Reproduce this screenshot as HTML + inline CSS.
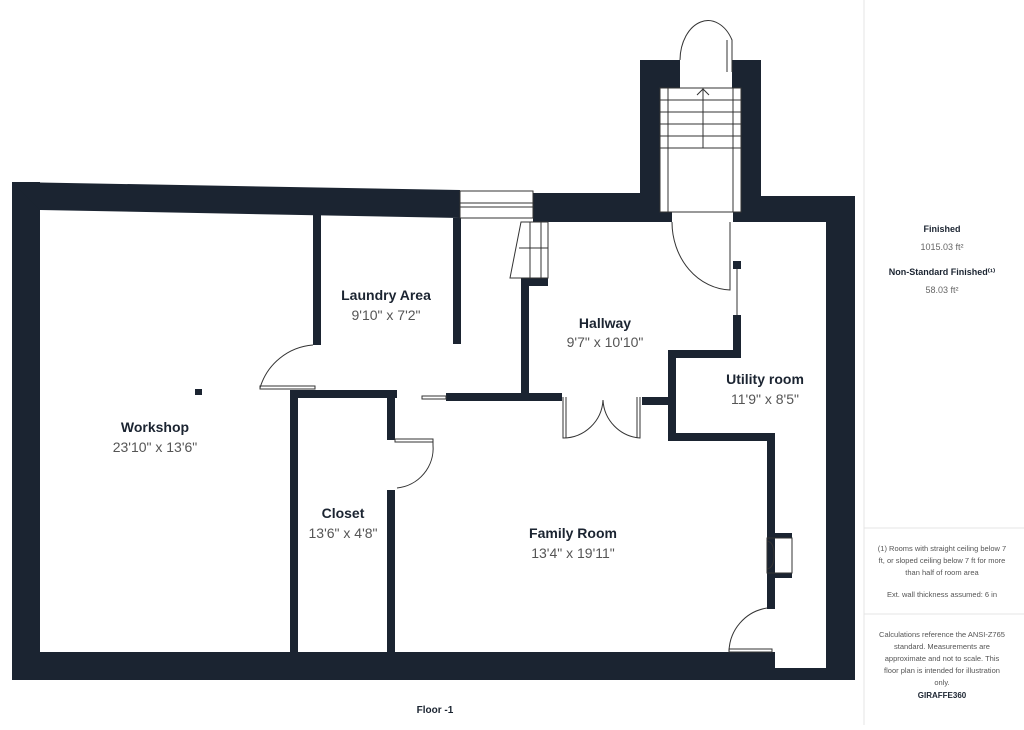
<!DOCTYPE html>
<html><head><style>
body{margin:0;background:#fff;width:1024px;height:725px;overflow:hidden;font-family:"Liberation Sans",sans-serif}
</style></head><body>
<svg width="1024" height="725" viewBox="0 0 1024 725" xmlns="http://www.w3.org/2000/svg">
<rect width="1024" height="725" fill="#fff"/>
<line x1="864" y1="0" x2="864" y2="725" stroke="#e4e4e4"/>
<line x1="864" y1="528" x2="1024" y2="528" stroke="#e4e4e4"/>
<line x1="864" y1="614" x2="1024" y2="614" stroke="#e4e4e4"/>
<g fill="#1b2431">
<!-- left outer -->
<rect x="12" y="182" width="28" height="498"/>
<!-- top wall left slanted -->
<polygon points="12,182 460,190 460,218 40,210"/>
<polygon points="533,193 640,193 640,222 533,222"/>
<!-- tower -->
<rect x="640" y="60" width="20" height="162"/>
<rect x="640" y="60" width="40" height="28"/>
<rect x="732" y="60" width="28" height="28"/>
<rect x="741" y="60" width="20" height="150"/>
<rect x="660" y="212" width="12" height="10"/>
<rect x="733" y="212" width="10" height="10"/>
<polygon points="741,196 855,196 855,222 741,222"/>
<!-- right wall -->
<rect x="826" y="196" width="29" height="484"/>
<rect x="775" y="668" width="80" height="12"/>
<!-- bottom -->
<rect x="12" y="652" width="763" height="28"/>
<!-- interior -->
<rect x="313" y="215" width="8" height="130"/>
<rect x="453" y="218" width="8" height="126"/>
<rect x="290" y="390" width="107" height="8"/>
<rect x="290" y="390" width="8" height="262"/>
<rect x="387" y="390" width="8" height="50"/>
<rect x="387" y="490" width="8" height="162"/>
<rect x="446" y="393" width="116" height="8"/>
<rect x="521" y="278" width="27" height="8"/>
<rect x="521" y="278" width="8" height="120"/>
<rect x="733" y="315" width="8" height="43"/>
<rect x="733" y="261" width="8" height="8"/>
<rect x="668" y="350" width="73" height="8"/>
<rect x="668" y="350" width="8" height="91"/>
<rect x="642" y="397" width="34" height="8"/>
<rect x="668" y="433" width="107" height="8"/>
<rect x="767" y="433" width="8" height="176"/>
<rect x="767" y="533" width="25" height="5"/>
<rect x="767" y="573" width="25" height="5"/>
<rect x="195" y="389" width="7" height="6"/>
</g>
<g fill="none" stroke="#333" stroke-width="1">
<!-- window top -->
<rect x="460" y="191" width="73" height="27"/>
<line x1="460" y1="203" x2="533" y2="203"/>
<line x1="460" y1="207" x2="533" y2="207"/>
<!-- stairs tower -->
<rect x="660" y="88" width="81" height="124"/>
<line x1="668" y1="88" x2="668" y2="212"/><line x1="733" y1="88" x2="733" y2="212"/>
<line x1="660" y1="100" x2="741" y2="100"/><line x1="660" y1="112" x2="741" y2="112"/>
<line x1="660" y1="124" x2="741" y2="124"/><line x1="660" y1="136" x2="741" y2="136"/>
<line x1="660" y1="148" x2="741" y2="148"/>
<line x1="703" y1="88" x2="703" y2="148"/>
<polyline points="697,95 703,89 709,95"/>
<path d="M680 60 A28 40 0 0 1 732 40 L732 72"/>
<line x1="727" y1="40" x2="727" y2="72"/>
<!-- inner stairs -->
<path d="M521 222 L548 222 L548 278 L510 278 Z"/>
<line x1="530" y1="222" x2="530" y2="278"/><line x1="541" y1="222" x2="541" y2="278"/>
<line x1="519" y1="248" x2="548" y2="248"/>
<!-- doors -->
<path d="M672 222 A60 68 0 0 0 730 290 L730 222"/>
<line x1="737" y1="269" x2="737" y2="315"/>
<path d="M260 388 A60 60 0 0 1 313 345"/>
<rect x="260" y="386" width="55" height="3"/>
<path d="M433 441 L433 445 A40 40 0 0 1 397 488"/>
<rect x="395" y="439" width="38" height="3"/>
<rect x="422" y="396" width="24" height="3"/>
<path d="M563 397 L563 438 A40 40 0 0 0 603 400 A40 40 0 0 0 640 438 L640 397"/>
<line x1="566" y1="397" x2="566" y2="438"/><line x1="637" y1="397" x2="637" y2="438"/>
<path d="M729 652 A45 45 0 0 1 767 608"/>
<rect x="729" y="649" width="43" height="3"/>
<rect x="767" y="538" width="25" height="35"/>
<path d="M767 541 Q774 542 774 555 Q774 568 767 569"/>
</g>
<g fill="#1b2431" font-size="14" font-weight="bold" text-anchor="middle">
<text x="386" y="300">Laundry Area</text>
<text x="605" y="328">Hallway</text>
<text x="765" y="384">Utility room</text>
<text x="155" y="432">Workshop</text>
<text x="343" y="518">Closet</text>
<text x="573" y="538">Family Room</text>
</g>
<g fill="#555" font-size="14" text-anchor="middle">
<text x="386" y="320">9'10" x 7'2"</text>
<text x="605" y="347">9'7" x 10'10"</text>
<text x="765" y="404">11'9" x 8'5"</text>
<text x="155" y="452">23'10" x 13'6"</text>
<text x="343" y="538">13'6" x 4'8"</text>
<text x="573" y="558">13'4" x 19'11"</text>
</g>
<text x="435" y="713" font-size="10" font-weight="bold" fill="#1b2431" text-anchor="middle">Floor -1</text>
<g text-anchor="middle" font-size="9">
<text x="942" y="232" font-weight="bold" fill="#1b2431">Finished</text>
<text x="942" y="250" fill="#666">1015.03 ft²</text>
<text x="942" y="275" font-weight="bold" fill="#1b2431">Non-Standard Finished⁽¹⁾</text>
<text x="942" y="293" fill="#666">58.03 ft²</text>
<g font-size="7.5" fill="#555">
<text x="942" y="551">(1) Rooms with straight ceiling below 7</text>
<text x="942" y="563">ft, or sloped ceiling below 7 ft for more</text>
<text x="942" y="575">than half of room area</text>
<text x="942" y="597">Ext. wall thickness assumed: 6 in</text>
<text x="942" y="637">Calculations reference the ANSI-Z765</text>
<text x="942" y="649">standard. Measurements are</text>
<text x="942" y="661">approximate and not to scale. This</text>
<text x="942" y="673">floor plan is intended for illustration</text>
<text x="942" y="685">only.</text>
</g>
<text x="942" y="698" font-weight="bold" fill="#1b2431" font-size="8">GIRAFFE360</text>
</g>
</svg>
</body></html>
